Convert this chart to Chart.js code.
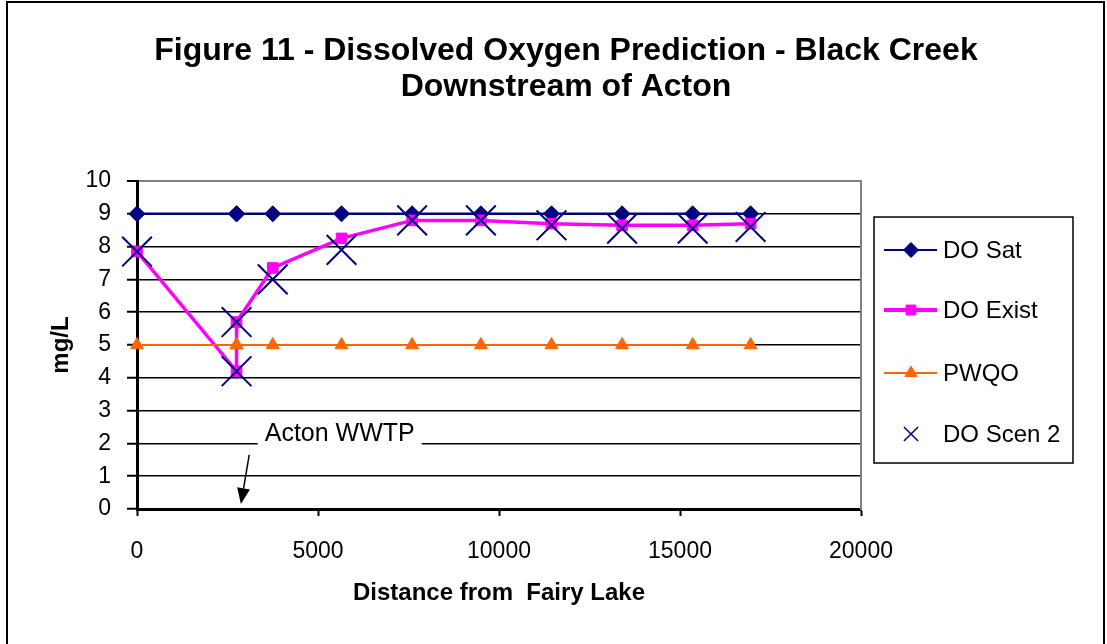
<!DOCTYPE html>
<html>
<head>
<meta charset="utf-8">
<title>Dissolved Oxygen Prediction - Black Creek</title>
<script src="https://cdn.jsdelivr.net/npm/chart.js@4/dist/chart.umd.min.js"></script>
<style>
  html, body { margin: 0; padding: 0; background: #fff; }
  #wrap { position: relative; width: 1107px; height: 644px; overflow: hidden; }
  canvas { display: block; }
</style>
</head>
<body>
<div id="wrap"><canvas id="c" width="1107" height="644"></canvas></div>
<script>
// Distance downstream from Fairy Lake (m) and dissolved oxygen (mg/L) at each station
const distance = [0, 2750, 2750, 3750, 5650, 7600, 9500, 11450, 13400, 15350, 16950];
const doSat    = [9, 9, 9, 9, 9, 9, 9, 9, 9, 9, 9];
const doExist  = [7.85, 4.2, 5.7, 7.35, 8.25, 8.8, 8.8, 8.7, 8.65, 8.65, 8.7];
const pwqo     = [5, 5, 5, 5, 5, 5, 5, 5, 5, 5, 5];
const doScen2  = [7.85, 4.2, 5.7, 7.0, 7.9, 8.8, 8.8, 8.65, 8.55, 8.55, 8.6];

const xTickValues = [0, 5000, 10000, 15000, 20000];
const yTickValues = [0, 1, 2, 3, 4, 5, 6, 7, 8, 9, 10];

const seriesNames = ['DO Sat', 'DO Exist', 'PWQO', 'DO Scen 2'];
const titleLines = ['Figure 11 - Dissolved Oxygen Prediction - Black Creek', 'Downstream of Acton'];
const xTitle = 'Distance from  Fairy Lake';
const yTitle = 'mg/L';

// Callout for the treatment plant outfall, placed in data units
const wwtpLabel = 'Acton WWTP';
const wwtpLabelAt = { x: 5600, y: 2.27 };
const wwtpArrowFrom = { x: 3100, y: 1.65 };
const wwtpArrowTo = { x: 2870, y: 0.15 };

const FONT = "'Liberation Sans', Arial, Helvetica, sans-serif";
Chart.defaults.font.family = FONT;
Chart.defaults.color = '#000';

const toPoints = ys => distance.map((x, i) => ({ x: x, y: ys[i] }));

// Marker shapes used in the legend panel
function drawMarker(ctx, style, x, y, r, fill, stroke, lw) {
  ctx.save();
  ctx.beginPath();
  ctx.fillStyle = fill;
  ctx.strokeStyle = stroke;
  ctx.lineWidth = lw;
  if (style === 'rectRot') {
    ctx.moveTo(x - r, y); ctx.lineTo(x, y - r); ctx.lineTo(x + r, y); ctx.lineTo(x, y + r);
    ctx.closePath(); ctx.fill(); ctx.stroke();
  } else if (style === 'rect') {
    const s = r * Math.SQRT1_2;
    ctx.rect(x - s, y - s, 2 * s, 2 * s); ctx.fill(); ctx.stroke();
  } else if (style === 'triangle') {
    ctx.moveTo(x, y - r);
    ctx.lineTo(x + r * Math.sin(2 * Math.PI / 3), y + r * 0.5);
    ctx.lineTo(x - r * Math.sin(2 * Math.PI / 3), y + r * 0.5);
    ctx.closePath(); ctx.fill(); ctx.stroke();
  } else if (style === 'crossRot') {
    const o = r * Math.SQRT1_2;
    ctx.moveTo(x - o, y - o); ctx.lineTo(x + o, y + o);
    ctx.moveTo(x + o, y - o); ctx.lineTo(x - o, y + o);
    ctx.stroke();
  }
  ctx.restore();
}

const legendSpec = [
  { line: '#000080', lineWidth: 2, style: 'rectRot', r: 7.5, fill: '#000080', stroke: '#000080', lw: 1 },
  { line: '#FF00FF', lineWidth: 4, style: 'rect', r: 7, fill: '#FF00FF', stroke: '#FF00FF', lw: 1 },
  { line: '#FF6600', lineWidth: 2, style: 'triangle', r: 7, fill: '#FF6600', stroke: '#FF6600', lw: 1 },
  { line: null, style: 'crossRot', r: 10, fill: 'rgba(0,0,0,0)', stroke: '#000080', lw: 1.5 }
];

const sheetPlugin = {
  id: 'sheet',
  beforeDraw(chart) {
    const ctx = chart.ctx;
    ctx.save();
    ctx.fillStyle = '#fff';
    ctx.fillRect(0, 0, chart.width, chart.height);
    ctx.restore();
  },
  afterDraw(chart) {
    const ctx = chart.ctx;
    const xs = chart.scales.x, ys = chart.scales.y;
    const ca = chart.chartArea;

    // Callout text with a white backing box over the grid line
    ctx.save();
    ctx.font = '25px ' + FONT;
    const tx = xs.getPixelForValue(wwtpLabelAt.x);
    const ty = ys.getPixelForValue(wwtpLabelAt.y);
    const tw = ctx.measureText(wwtpLabel).width;
    ctx.fillStyle = '#fff';
    ctx.fillRect(tx - tw / 2 - 7, ty - 12, tw + 14, 24);
    ctx.fillStyle = '#000';
    ctx.textAlign = 'center';
    ctx.textBaseline = 'middle';
    ctx.fillText(wwtpLabel, tx, ty);

    // Arrow pointing at the outfall location
    const ax0 = xs.getPixelForValue(wwtpArrowFrom.x), ay0 = ys.getPixelForValue(wwtpArrowFrom.y);
    const ax1 = xs.getPixelForValue(wwtpArrowTo.x), ay1 = ys.getPixelForValue(wwtpArrowTo.y);
    const ang = Math.atan2(ay1 - ay0, ax1 - ax0);
    const headLen = 16, headHalf = 6.5;
    const bx = ax1 - headLen * Math.cos(ang), by = ay1 - headLen * Math.sin(ang);
    ctx.strokeStyle = '#000';
    ctx.lineWidth = 1.5;
    ctx.beginPath();
    ctx.moveTo(ax0, ay0);
    ctx.lineTo(bx, by);
    ctx.stroke();
    ctx.beginPath();
    ctx.moveTo(ax1, ay1);
    ctx.lineTo(bx + headHalf * Math.sin(ang), by - headHalf * Math.cos(ang));
    ctx.lineTo(bx - headHalf * Math.sin(ang), by + headHalf * Math.cos(ang));
    ctx.closePath();
    ctx.fillStyle = '#000';
    ctx.fill();
    ctx.restore();

    // Legend panel to the right of the plot
    const lx = ca.right + 13, ly = ca.top + 36, lw = 199, lh = 246;
    const rows = [33, 93, 156, 217];
    ctx.save();
    ctx.fillStyle = '#fff';
    ctx.fillRect(lx, ly, lw, lh);
    ctx.strokeStyle = '#000';
    ctx.lineWidth = 1.5;
    ctx.strokeRect(lx, ly, lw, lh);
    ctx.font = '24px ' + FONT;
    ctx.textBaseline = 'middle';
    ctx.textAlign = 'left';
    legendSpec.forEach((s, i) => {
      const y = ly + rows[i];
      if (s.line) {
        ctx.strokeStyle = s.line;
        ctx.lineWidth = s.lineWidth;
        ctx.beginPath();
        ctx.moveTo(lx + 10, y);
        ctx.lineTo(lx + 63, y);
        ctx.stroke();
      }
      drawMarker(ctx, s.style, lx + 37, y, s.r, s.fill, s.stroke, s.lw);
      ctx.fillStyle = '#000';
      ctx.fillText(seriesNames[i], lx + 69, y + 1);
    });
    ctx.restore();

    // Outer chart frame
    ctx.save();
    ctx.strokeStyle = '#000';
    ctx.lineWidth = 2;
    ctx.strokeRect(7, 2, 1097, 700);
    ctx.restore();
  }
};

new Chart(document.getElementById('c'), {
  type: 'scatter',
  data: {
    datasets: [
      {
        label: seriesNames[0], data: toPoints(doSat), showLine: true, tension: 0,
        borderColor: '#000080', borderWidth: 2.5,
        pointStyle: 'rectRot', pointRadius: 8, pointBackgroundColor: '#000080',
        pointBorderColor: '#000080', pointBorderWidth: 1, clip: false, order: 4
      },
      {
        label: seriesNames[1], data: toPoints(doExist), showLine: true, tension: 0,
        borderColor: '#FF00FF', borderWidth: 3.5,
        pointStyle: 'rect', pointRadius: 7.5, pointBackgroundColor: '#FF00FF',
        pointBorderColor: '#FF00FF', pointBorderWidth: 1, clip: false, order: 3
      },
      {
        label: seriesNames[2], data: toPoints(pwqo), showLine: true, tension: 0,
        borderColor: '#FF6600', borderWidth: 2,
        pointStyle: 'triangle', pointRadius: 7.5, pointBackgroundColor: '#FF6600',
        pointBorderColor: '#FF6600', pointBorderWidth: 1, clip: false, order: 2
      },
      {
        label: seriesNames[3], data: toPoints(doScen2), showLine: false,
        pointStyle: 'crossRot', pointRadius: 21, pointBorderColor: '#000080',
        pointBackgroundColor: 'rgba(0,0,0,0)', pointBorderWidth: 2, clip: false, order: 1
      }
    ]
  },
  options: {
    responsive: false,
    animation: false,
    devicePixelRatio: 1,
    layout: { padding: { left: 25, right: 0, top: 0, bottom: 0 } },
    plugins: {
      legend: { display: false },
      tooltip: { enabled: false },
      title: {
        display: true,
        text: titleLines,
        color: '#000',
        font: { size: 32, weight: 'bold', lineHeight: 1.13 },
        padding: { top: 33, bottom: 75.7 }
      }
    },
    scales: {
      x: {
        type: 'linear', position: 'bottom', min: 0, max: 20000,
        afterBuildTicks: s => { s.ticks = xTickValues.map(v => ({ value: v })); },
        afterFit: s => { s.height = 135; },
        ticks: { font: { size: 23 }, color: '#000', padding: 22, maxRotation: 0, autoSkip: false,
                 callback: v => String(v) },
        grid: { display: true, drawOnChartArea: false, drawTicks: true, tickLength: 7,
                color: '#000', tickColor: '#000', tickWidth: 2 },
        border: { display: true, color: '#000', width: 3 },
        title: { display: true, text: xTitle, color: '#000',
                 font: { size: 24, weight: 'bold' }, padding: { top: 0, bottom: 36 } }
      },
      y: {
        type: 'linear', position: 'left', min: 0, max: 10,
        afterBuildTicks: s => { s.ticks = yTickValues.map(v => ({ value: v })); },
        afterFit: s => { s.width = 112; },
        ticks: { font: { size: 23 }, color: '#000', padding: 16, callback: v => String(v) },
        grid: {
          color: c => (c.tick && c.tick.value === 10) ? '#808080' : '#000',
          lineWidth: c => (c.tick && c.tick.value === 10) ? 2 : 1.5,
          tickColor: '#000', tickWidth: 2, tickLength: 10
        },
        border: { display: true, color: '#000', width: 3 },
        title: { display: true, text: yTitle, color: '#000',
                 font: { size: 24, weight: 'bold' }, padding: { top: 22, bottom: 0 } }
      },
      frameRight: {
        type: 'linear', position: 'right', min: 0, max: 10, display: true,
        afterFit: s => { s.width = 246; },
        ticks: { display: false },
        grid: { display: false, drawTicks: false },
        border: { display: true, color: '#808080', width: 2 }
      }
    }
  },
  plugins: [sheetPlugin]
});
</script>
</body>
</html>
